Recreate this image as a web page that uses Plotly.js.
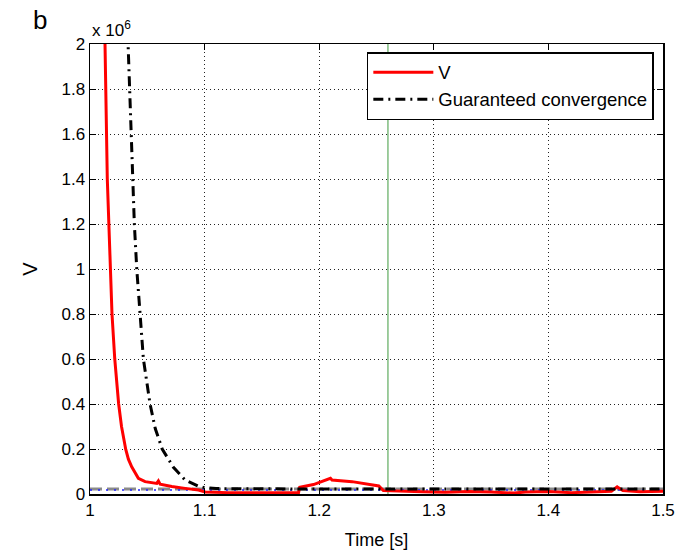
<!DOCTYPE html>
<html>
<head>
<meta charset="utf-8">
<script src="https://cdn.plot.ly/plotly-3.0.1.min.js"></script>
<style>
  html, body { margin: 0; padding: 0; background: #fff; }
  #chart { width: 695px; height: 557px; }
</style>
</head>
<body>
<div id="chart"></div>
<script>
// Lyapunov function V over time, with the guaranteed-convergence bound.
const vTime = [1.0120, 1.0131, 1.0151, 1.0166, 1.0181, 1.0192, 1.0216, 1.0250, 1.0275, 1.0312, 1.0335,
  1.0364, 1.0422, 1.0481, 1.0583, 1.0597, 1.0612, 1.0714, 1.0830, 1.0947, 1.1005, 1.1210, 1.1500, 1.1820,
  1.1830, 1.1950, 1.2098, 1.2112, 1.2287, 1.2450, 1.2520, 1.2560, 1.2700, 1.2900, 1.3100, 1.3300, 1.3500,
  1.3700, 1.3800, 1.4000, 1.4200, 1.4400, 1.4550, 1.4600, 1.4650, 1.4800, 1.5000];
const vValue = [2.10e6, 2.00e6, 1.40e6, 1.20e6, 1.00e6, 0.80e6, 0.60e6, 0.40e6, 0.30e6, 0.198e6, 0.155e6,
  0.121e6, 0.070e6, 0.055e6, 0.047e6, 0.058e6, 0.044e6, 0.033e6, 0.025e6, 0.018e6, 0.009e6, 0.006e6, 0.006e6,
  0.006e6, 0.030e6, 0.042e6, 0.070e6, 0.062e6, 0.055e6, 0.042e6, 0.036e6, 0.015e6, 0.012e6, 0.010e6, 0.008e6,
  0.011e6, 0.009e6, 0.004e6, 0.009e6, 0.011e6, 0.006e6, 0.010e6, 0.012e6, 0.032e6, 0.015e6, 0.010e6, 0.012e6];

const boundTime = [1.0322, 1.0332, 1.0373, 1.0387, 1.0408, 1.0437, 1.0466, 1.0524, 1.0570, 1.0630, 1.0726,
  1.0830, 1.0940, 1.1000, 1.1100, 1.2000, 1.3000, 1.4000, 1.5000];
const boundValue = [2.15e6, 2.00e6, 1.40e6, 1.20e6, 1.00e6, 0.80e6, 0.60e6, 0.40e6, 0.29e6, 0.20e6, 0.12e6,
  0.062e6, 0.036e6, 0.028e6, 0.024e6, 0.022e6, 0.022e6, 0.022e6, 0.022e6];

// Reference levels and the switching instant
const levelTime = [1.0, 1.5];
const grayLevel = [0.022e6, 0.022e6];
const blueLevel = [0.018e6, 0.018e6];
const switchTime = [1.26, 1.26];
const switchSpan = [0, 2e6];

const xTicks = [1, 1.1, 1.2, 1.3, 1.4, 1.5];
const xTickText = ['1', '1.1', '1.2', '1.3', '1.4', '1.5'];
const yTicks = [0, 0.2e6, 0.4e6, 0.6e6, 0.8e6, 1.0e6, 1.2e6, 1.4e6, 1.6e6, 1.8e6, 2.0e6];
const yTickText = ['0', '0.2', '0.4', '0.6', '0.8', '1', '1.2', '1.4', '1.6', '1.8', '2'];

const font = 'Liberation Sans, Arial, sans-serif';

const traces = [
  { x: switchTime, y: switchSpan, mode: 'lines', showlegend: false,
    line: { color: '#3f9a3f', width: 1 } },
  { x: levelTime, y: grayLevel, mode: 'lines', showlegend: false,
    line: { color: '#8a8a8a', width: 3, dash: '12px,5px' } },
  { x: levelTime, y: blueLevel, mode: 'lines', showlegend: false,
    line: { color: '#2020ff', width: 1.5, dash: '2px,6px' } },
  { x: vTime, y: vValue, mode: 'lines', name: 'V',
    line: { color: '#ff0000', width: 3 } },
  { x: boundTime, y: boundValue, mode: 'lines', name: 'Guaranteed convergence',
    line: { color: '#000000', width: 3, dash: '10px,5px,2px,5px' } }
];

const axisCommon = {
  showline: true, linecolor: '#000', linewidth: 1.5, mirror: 'ticks',
  ticks: 'inside', ticklen: 6, tickcolor: '#000', tickwidth: 1,
  showgrid: true, gridcolor: '#222', griddash: '1px,3px', gridwidth: 1,
  zeroline: false, tickfont: { family: font, size: 17, color: '#000' }
};

const layout = {
  width: 695, height: 557,
  margin: { l: 90, r: 32, t: 44, b: 63 },
  paper_bgcolor: '#fff', plot_bgcolor: '#fff',
  xaxis: Object.assign({}, axisCommon, {
    range: [1, 1.5], tickmode: 'array', tickvals: xTicks, ticktext: xTickText,
    title: { text: 'Time [s]', font: { family: font, size: 18, color: '#000' }, standoff: 14 }
  }),
  yaxis: Object.assign({}, axisCommon, {
    range: [0, 2e6], tickmode: 'array', tickvals: yTicks, ticktext: yTickText,
    title: { text: 'V', font: { family: font, size: 20, color: '#000' }, standoff: 18 }
  }),
  legend: {
    x: 0.984, y: 0.982, xanchor: 'right', yanchor: 'top',
    bgcolor: '#fff', bordercolor: '#000', borderwidth: 1.5,
    font: { family: font, size: 18.5, color: '#000' },
    itemwidth: 60, tracegroupgap: 0
  },
  annotations: [
    { text: 'b', xref: 'paper', yref: 'paper', x: -0.087, y: 1.053, xanchor: 'center', yanchor: 'middle',
      showarrow: false, font: { family: font, size: 26, color: '#000' } },
    { text: 'x 10<sup>6</sup>', xref: 'paper', yref: 'paper', x: 0, y: 1, xanchor: 'left', yanchor: 'bottom',
      yshift: 2, showarrow: false, font: { family: font, size: 17, color: '#000' } }
  ],
  showlegend: true
};

Plotly.newPlot('chart', traces, layout, { displayModeBar: false, staticPlot: true });
</script>
</body>
</html>
